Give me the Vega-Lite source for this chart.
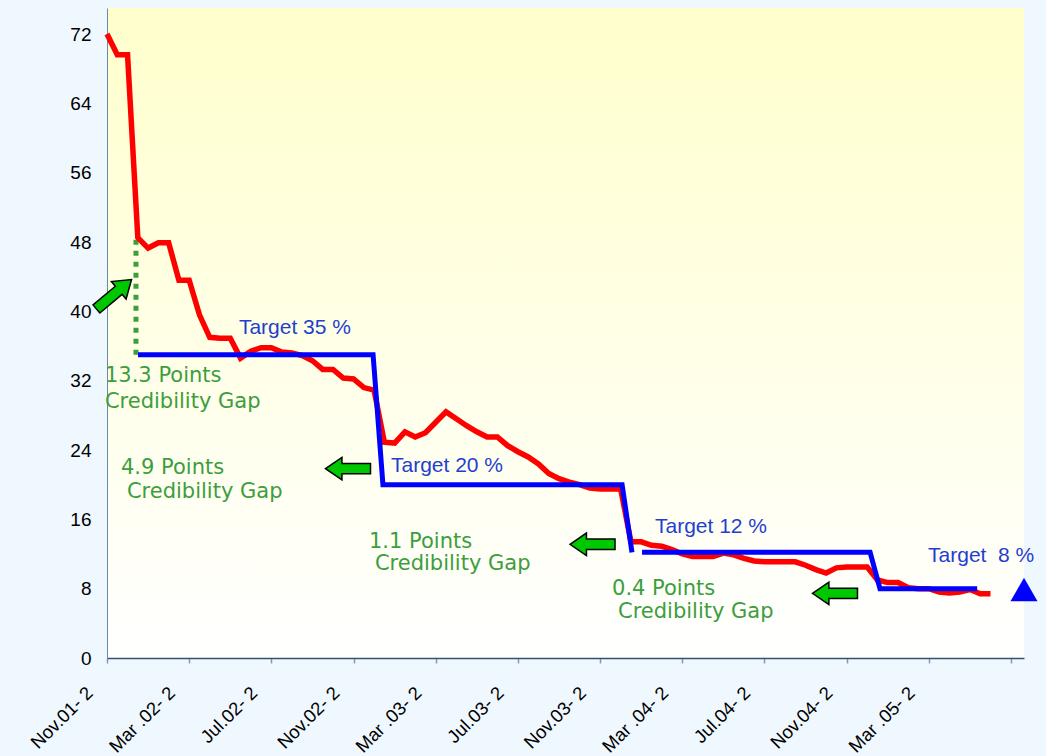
{
  "$schema": "https://vega.github.io/schema/vega-lite/v6.json",
  "width": 917,
  "height": 650,
  "autosize": {"type": "none"},
  "padding": {"left": 107, "top": 8, "right": 22, "bottom": 98},
  "background": "#F0F8FF",
  "config": {
    "view": {
      "stroke": null,
      "fill": {"gradient": "linear", "x1": 0, "y1": 0, "x2": 0, "y2": 1,
        "stops": [{"offset": 0, "color": "#FFFFCC"}, {"offset": 1, "color": "#FFFFFF"}]}
    },
    "axis": {"grid": false, "title": null, "labelFont": "Liberation Sans", "labelColor": "#000000"}
  },
  "datasets": {
    "actual": [
      {"t": 0, "v": 72.0}, {"t": 0.5, "v": 69.6}, {"t": 1, "v": 69.6}, {"t": 1.5, "v": 48.5},
      {"t": 2, "v": 47.3}, {"t": 2.5, "v": 47.9}, {"t": 3, "v": 47.9}, {"t": 3.5, "v": 43.6},
      {"t": 4, "v": 43.6}, {"t": 4.5, "v": 39.6}, {"t": 5, "v": 37.0}, {"t": 5.5, "v": 36.9},
      {"t": 6, "v": 36.9}, {"t": 6.5, "v": 34.6}, {"t": 7, "v": 35.4}, {"t": 7.5, "v": 35.8},
      {"t": 8, "v": 35.8}, {"t": 8.5, "v": 35.3}, {"t": 9, "v": 35.2}, {"t": 9.5, "v": 34.9},
      {"t": 10, "v": 34.3}, {"t": 10.5, "v": 33.3}, {"t": 11, "v": 33.3}, {"t": 11.5, "v": 32.3},
      {"t": 12, "v": 32.2}, {"t": 12.5, "v": 31.2}, {"t": 13, "v": 30.9}, {"t": 13.5, "v": 24.9},
      {"t": 14, "v": 24.8}, {"t": 14.5, "v": 26.1}, {"t": 15, "v": 25.5}, {"t": 15.5, "v": 26.0},
      {"t": 16, "v": 27.2}, {"t": 16.5, "v": 28.4}, {"t": 17, "v": 27.6}, {"t": 17.5, "v": 26.8},
      {"t": 18, "v": 26.1}, {"t": 18.5, "v": 25.5}, {"t": 19, "v": 25.5}, {"t": 19.5, "v": 24.5},
      {"t": 20, "v": 23.8}, {"t": 20.5, "v": 23.2}, {"t": 21, "v": 22.4}, {"t": 21.5, "v": 21.3},
      {"t": 22, "v": 20.7}, {"t": 22.5, "v": 20.3}, {"t": 23, "v": 20.0}, {"t": 23.5, "v": 19.6},
      {"t": 24, "v": 19.5}, {"t": 24.5, "v": 19.5}, {"t": 25, "v": 19.5}, {"t": 25.5, "v": 13.4},
      {"t": 26, "v": 13.4}, {"t": 26.5, "v": 13.0}, {"t": 27, "v": 12.9}, {"t": 27.5, "v": 12.5},
      {"t": 28, "v": 12.0}, {"t": 28.5, "v": 11.7}, {"t": 29, "v": 11.7}, {"t": 29.5, "v": 11.7},
      {"t": 30, "v": 12.1}, {"t": 30.5, "v": 11.9}, {"t": 31, "v": 11.5}, {"t": 31.5, "v": 11.2},
      {"t": 32, "v": 11.1}, {"t": 32.5, "v": 11.1}, {"t": 33, "v": 11.1}, {"t": 33.5, "v": 11.1},
      {"t": 34, "v": 10.7}, {"t": 34.5, "v": 10.2}, {"t": 35, "v": 9.8}, {"t": 35.5, "v": 10.4},
      {"t": 36, "v": 10.5}, {"t": 36.5, "v": 10.5}, {"t": 37, "v": 10.5}, {"t": 37.5, "v": 9.0},
      {"t": 38, "v": 8.7}, {"t": 38.5, "v": 8.7}, {"t": 39, "v": 8.1}, {"t": 39.5, "v": 8.0},
      {"t": 40, "v": 8.0}, {"t": 40.5, "v": 7.6}, {"t": 41, "v": 7.5}, {"t": 41.5, "v": 7.6},
      {"t": 42, "v": 7.9}, {"t": 42.5, "v": 7.4}, {"t": 43, "v": 7.4}
    ],
    "target": [
      {"seg": "a", "t": 1.51, "v": 35}, {"seg": "a", "t": 12.95, "v": 35},
      {"seg": "a", "t": 13.43, "v": 20}, {"seg": "a", "t": 25.07, "v": 20},
      {"seg": "a", "t": 25.55, "v": 12.2},
      {"seg": "b", "t": 26.04, "v": 12.2}, {"seg": "b", "t": 37.14, "v": 12.2},
      {"seg": "b", "t": 37.62, "v": 8}, {"seg": "b", "t": 42.35, "v": 8}
    ],
    "gap": [{"t": 1.41, "v": 35}, {"t": 1.41, "v": 48.4}],
    "blueText": [
      {"t": 6.42, "v": 37.34, "label": "Target 35 %"},
      {"t": 13.82, "v": 21.5, "label": "Target 20 %"},
      {"t": 26.67, "v": 14.45, "label": "Target 12 %"},
      {"t": 39.96, "v": 11.1, "label": "Target\u00a0 8 %"}
    ],
    "greenText": [
      {"t": -0.1, "v": 31.8, "label": "13.3 Points"},
      {"t": -0.1, "v": 28.9, "label": "Credibility Gap"},
      {"t": 0.68, "v": 21.27, "label": "4.9 Points"},
      {"t": 0.97, "v": 18.5, "label": "Credibility Gap"},
      {"t": 12.75, "v": 12.72, "label": "1.1 Points"},
      {"t": 13.04, "v": 10.17, "label": "Credibility Gap"},
      {"t": 24.58, "v": 7.28, "label": "0.4 Points"},
      {"t": 24.87, "v": 4.62, "label": "Credibility Gap"}
    ],
    "leftArrows": [
      {"t": 11.73, "v": 21.85}, {"t": 23.63, "v": 13.12}, {"t": 35.43, "v": 7.46}
    ],
    "diagArrow": [{"t": 0.34, "v": 41.97}],
    "marker": [{"t": 44.63, "v": 7.9}]
  },
  "encoding": {
    "x": {"field": "t", "type": "quantitative",
      "scale": {"domain": [0, 44.63], "nice": false, "zero": false},
      "axis": {
        "values": [0, 4, 8, 12, 16, 20, 24, 28, 32, 36, 40, 44],
        "labelExpr": "['Nov.01- 2','Mar .02- 2','Jul.02- 2','Nov.02- 2','Mar .03- 2','Jul.03- 2','Nov.03- 2','Mar .04- 2','Jul.04- 2','Nov.04- 2','Mar .05- 2',''][round(datum.value/4)]",
        "labelAngle": -45, "labelFontSize": 18.5, "labelPadding": 20, "labelOffset": -24,
        "domainColor": "#34506E", "domainWidth": 1.5,
        "tickColor": "#7F9CBF", "tickSize": 5, "tickWidth": 1.5
      }},
    "y": {"field": "v", "type": "quantitative",
      "scale": {"domain": [0, 75], "nice": false},
      "axis": {
        "values": [0, 8, 16, 24, 32, 40, 48, 56, 64, 72],
        "ticks": false, "labelPadding": 16, "labelFontSize": 19,
        "domainColor": "#6C88A8", "domainWidth": 1
      }}
  },
  "layer": [
    {"data": {"name": "gap"}, "mark": {"type": "line", "color": "#3C9E3C", "strokeWidth": 5, "strokeDash": [5, 6]}, "encoding": {}},
    {"data": {"name": "actual"}, "mark": {"type": "line", "color": "#FF0000", "strokeWidth": 5.5}, "encoding": {}},
    {"data": {"name": "target"}, "mark": {"type": "line", "color": "#0000FF", "strokeWidth": 5}, "encoding": {"detail": {"field": "seg"}}},
    {"data": {"name": "blueText"}, "mark": {"type": "text", "align": "left", "baseline": "alphabetic", "font": "Liberation Sans", "fontSize": 21, "color": "#1F3FCF"}, "encoding": {"text": {"field": "label"}}},
    {"data": {"name": "greenText"}, "mark": {"type": "text", "align": "left", "baseline": "alphabetic", "font": "DejaVu Sans", "fontSize": 21, "color": "#3C9E3C"}, "encoding": {"text": {"field": "label"}}},
    {"data": {"name": "leftArrows"}, "mark": {"type": "point", "filled": true, "size": 2025, "fill": "#00C800", "stroke": "#000000", "strokeWidth": 1.5, "opacity": 1,
      "shape": "M -1 0 L -0.27 -0.5 L -0.27 -0.23 L 1 -0.23 L 1 0.23 L -0.27 0.23 L -0.27 0.5 Z"}, "encoding": {}},
    {"data": {"name": "diagArrow"}, "mark": {"type": "point", "filled": true, "size": 2100, "angle": 140, "fill": "#00C800", "stroke": "#000000", "strokeWidth": 1.5, "opacity": 1,
      "shape": "M -1 0 L -0.27 -0.5 L -0.27 -0.23 L 1 -0.23 L 1 0.23 L -0.27 0.23 L -0.27 0.5 Z"}, "encoding": {}},
    {"data": {"name": "marker"}, "mark": {"type": "point", "filled": true, "shape": "triangle-up", "size": 730, "fill": "#0000FF", "opacity": 1}, "encoding": {}}
  ]
}
